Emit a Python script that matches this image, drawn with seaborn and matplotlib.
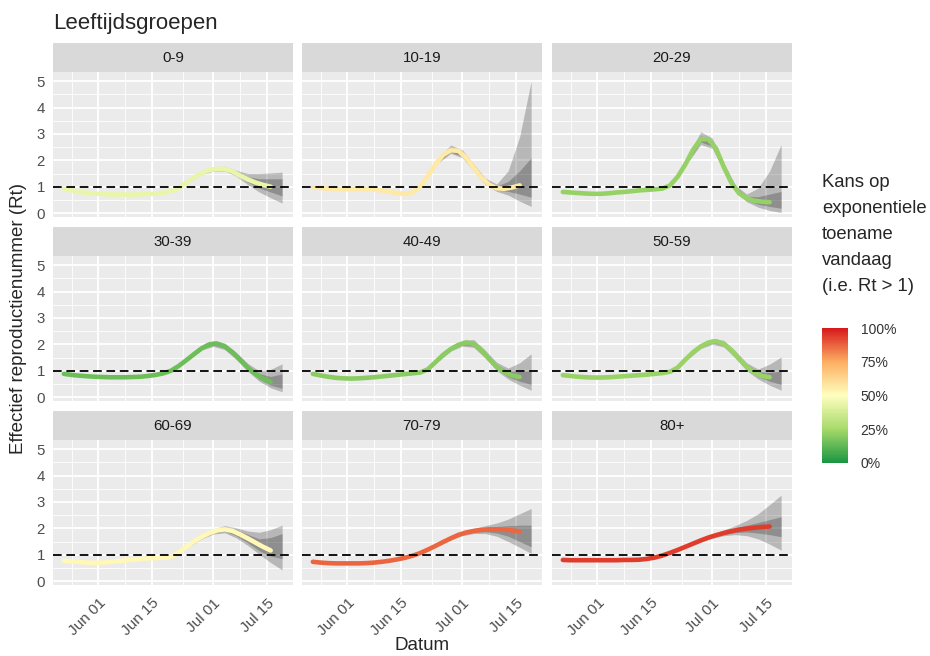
import numpy as np
import pandas as pd
import matplotlib
matplotlib.use("Agg")
import matplotlib.pyplot as plt
import matplotlib.dates as mdates
from matplotlib.colors import LinearSegmentedColormap, Normalize
from matplotlib.cm import ScalarMappable
from matplotlib.ticker import FixedLocator
import seaborn as sns

# Facet order (age groups)
groups = ['0-9', '10-19', '20-29', '30-39', '40-49', '50-59', '60-69', '70-79', '80+']

# Dates of the Rt estimates (every 2 days) and of the tail of the intervals
line_dates = pd.date_range('2020-05-23', '2020-07-16', freq='2D')
band_dates = pd.date_range('2020-06-25', '2020-07-19', freq='3D')

# Rt estimate per group
rt = {
    '0-9':   [0.92, 0.86, 0.81, 0.77, 0.74, 0.72, 0.71, 0.70, 0.70, 0.70, 0.71, 0.72, 0.74, 0.77,
              0.83, 0.95, 1.15, 1.35, 1.52, 1.63, 1.68, 1.68, 1.58, 1.42, 1.28, 1.16, 1.07, 1.00],
    '10-19': [0.97, 0.95, 0.93, 0.92, 0.91, 0.91, 0.92, 0.92, 0.90, 0.86, 0.81, 0.76, 0.72, 0.78,
              1.00, 1.40, 1.85, 2.20, 2.38, 2.36, 2.10, 1.72, 1.35, 1.08, 0.94, 0.92, 0.97, 1.05],
    '20-29': [0.80, 0.78, 0.76, 0.74, 0.73, 0.73, 0.75, 0.78, 0.80, 0.83, 0.86, 0.88, 0.90, 0.93,
              1.05, 1.38, 1.85, 2.40, 2.80, 2.80, 2.45, 1.75, 1.15, 0.75, 0.55, 0.47, 0.43, 0.41],
    '30-39': [0.88, 0.84, 0.81, 0.79, 0.77, 0.76, 0.75, 0.75, 0.75, 0.76, 0.77, 0.80, 0.84, 0.90,
              1.00, 1.18, 1.40, 1.63, 1.85, 2.00, 2.03, 1.92, 1.70, 1.42, 1.12, 0.88, 0.70, 0.57],
    '40-49': [0.88, 0.82, 0.77, 0.73, 0.71, 0.70, 0.71, 0.73, 0.75, 0.78, 0.81, 0.84, 0.87, 0.90,
              0.93, 1.05, 1.32, 1.60, 1.82, 1.98, 2.07, 2.02, 1.78, 1.45, 1.15, 0.95, 0.82, 0.76],
    '50-59': [0.83, 0.80, 0.77, 0.75, 0.74, 0.74, 0.75, 0.77, 0.79, 0.81, 0.83, 0.85, 0.88, 0.91,
              0.96, 1.12, 1.42, 1.70, 1.92, 2.07, 2.12, 2.02, 1.78, 1.45, 1.15, 0.93, 0.80, 0.75],
    '60-69': [0.77, 0.74, 0.72, 0.70, 0.69, 0.70, 0.72, 0.75, 0.78, 0.81, 0.84, 0.86, 0.87, 0.88,
              0.92, 1.08, 1.30, 1.50, 1.68, 1.82, 1.92, 1.96, 1.90, 1.77, 1.62, 1.46, 1.30, 1.16],
    '70-79': [0.73, 0.70, 0.68, 0.67, 0.67, 0.67, 0.67, 0.68, 0.70, 0.73, 0.77, 0.82, 0.88, 0.96,
              1.06, 1.19, 1.33, 1.48, 1.62, 1.75, 1.84, 1.90, 1.94, 1.96, 1.96, 1.95, 1.92, 1.88],
    '80+':   [0.80, 0.79, 0.79, 0.79, 0.79, 0.79, 0.79, 0.79, 0.80, 0.80, 0.81, 0.84, 0.89, 0.97,
              1.07, 1.18, 1.30, 1.42, 1.54, 1.65, 1.74, 1.82, 1.89, 1.95, 1.99, 2.02, 2.05, 2.07],
}

# Outer (95%) and inner (50%) intervals at band_dates
lo95 = {
    '0-9':   [1.20, 1.46, 1.59, 1.60, 1.40, 1.08, 0.80, 0.58, 0.38],
    '10-19': [1.93, 2.26, 2.10, 1.60, 1.08, 0.82, 0.68, 0.45, 0.25],
    '20-29': [1.98, 2.60, 2.45, 1.60, 0.84, 0.43, 0.22, 0.10, 0.02],
    '30-39': [1.45, 1.78, 1.92, 1.80, 1.42, 0.98, 0.60, 0.35, 0.20],
    '40-49': [1.38, 1.74, 1.93, 1.88, 1.48, 1.00, 0.68, 0.45, 0.26],
    '50-59': [1.48, 1.84, 2.00, 1.90, 1.48, 1.00, 0.68, 0.45, 0.26],
    '60-69': [1.33, 1.60, 1.78, 1.83, 1.64, 1.35, 1.02, 0.70, 0.42],
    '70-79': [1.35, 1.56, 1.72, 1.80, 1.80, 1.70, 1.50, 1.28, 1.05],
    '80+':   [1.31, 1.48, 1.62, 1.72, 1.76, 1.72, 1.60, 1.40, 1.17],
}
hi95 = {
    '0-9':   [1.30, 1.58, 1.74, 1.78, 1.62, 1.50, 1.50, 1.52, 1.55],
    '10-19': [2.13, 2.58, 2.40, 1.86, 1.33, 1.10, 1.60, 2.90, 5.00],
    '20-29': [2.28, 3.08, 2.85, 1.92, 1.07, 0.72, 0.95, 1.60, 2.60],
    '30-39': [1.60, 1.93, 2.14, 2.05, 1.70, 1.28, 1.00, 1.05, 1.26],
    '40-49': [1.55, 1.90, 2.15, 2.18, 1.78, 1.32, 1.10, 1.30, 1.64],
    '50-59': [1.64, 2.00, 2.22, 2.15, 1.76, 1.30, 1.06, 1.25, 1.52],
    '60-69': [1.47, 1.76, 1.98, 2.10, 2.02, 1.90, 1.85, 1.95, 2.12],
    '70-79': [1.45, 1.68, 1.88, 2.00, 2.10, 2.20, 2.35, 2.55, 2.75],
    '80+':   [1.41, 1.60, 1.78, 1.94, 2.10, 2.30, 2.55, 2.90, 3.26],
}
lo50 = {
    '0-9':   [1.23, 1.49, 1.63, 1.64, 1.45, 1.18, 0.95, 0.80, 0.65],
    '10-19': [1.98, 2.31, 2.16, 1.66, 1.14, 0.88, 0.82, 0.72, 0.60],
    '20-29': [2.05, 2.70, 2.53, 1.68, 0.90, 0.49, 0.33, 0.25, 0.18],
    '30-39': [1.48, 1.81, 1.97, 1.85, 1.48, 1.04, 0.68, 0.45, 0.33],
    '40-49': [1.42, 1.78, 1.98, 1.94, 1.54, 1.06, 0.77, 0.60, 0.48],
    '50-59': [1.52, 1.88, 2.05, 1.96, 1.55, 1.07, 0.77, 0.60, 0.48],
    '60-69': [1.37, 1.64, 1.83, 1.89, 1.72, 1.45, 1.15, 0.95, 0.85],
    '70-79': [1.38, 1.59, 1.76, 1.85, 1.87, 1.82, 1.70, 1.50, 1.30],
    '80+':   [1.34, 1.51, 1.66, 1.77, 1.84, 1.86, 1.82, 1.76, 1.68],
}
hi50 = {
    '0-9':   [1.27, 1.55, 1.70, 1.72, 1.56, 1.38, 1.30, 1.30, 1.30],
    '10-19': [2.08, 2.47, 2.32, 1.79, 1.27, 1.02, 1.20, 1.60, 2.10],
    '20-29': [2.20, 2.93, 2.72, 1.84, 1.01, 0.63, 0.62, 0.72, 0.82],
    '30-39': [1.56, 1.89, 2.08, 1.99, 1.63, 1.20, 0.89, 0.78, 0.88],
    '40-49': [1.50, 1.86, 2.09, 2.10, 1.70, 1.24, 0.99, 0.98, 1.00],
    '50-59': [1.60, 1.96, 2.16, 2.09, 1.69, 1.23, 0.96, 0.93, 0.98],
    '60-69': [1.43, 1.72, 1.93, 2.03, 1.94, 1.77, 1.60, 1.65, 1.80],
    '70-79': [1.42, 1.65, 1.84, 1.95, 2.03, 2.07, 2.10, 2.12, 2.12],
    '80+':   [1.38, 1.57, 1.74, 1.87, 2.00, 2.12, 2.22, 2.33, 2.44],
}

# Probability that Rt > 1 today (line colour)
p_growth = {'0-9': 0.44, '10-19': 0.57, '20-29': 0.22, '30-39': 0.15, '40-49': 0.20,
            '50-59': 0.23, '60-69': 0.52, '70-79': 0.87, '80+': 0.94}

# Long table for seaborn
df = pd.concat([pd.DataFrame({'groep': g, 'datum': line_dates, 'rt': rt[g]}) for g in groups],
               ignore_index=True)

# Theme (ggplot-like grey)
sns.set_theme(style='darkgrid', rc={'axes.facecolor': '#ebebeb', 'grid.color': 'white'})
plt.rcParams['font.family'] = ['Liberation Sans', 'DejaVu Sans']

cmap = LinearSegmentedColormap.from_list(
    'kans', ['#1a9641', '#a6d96a', '#ffffbf', '#fdae61', '#d7191c'])
norm = Normalize(0, 1)

W, H = 930, 656
fig = plt.figure(figsize=(W / 100, H / 100), dpi=100)


def box(left, top, width, height):
    return [left / W, 1 - (top + height) / H, width / W, height / H]


col_left = [53, 302, 552]
row_top = [43, 227, 411]
panel_w, strip_h, panel_h = 240, 29, 145

x_major = pd.to_datetime(['2020-06-01', '2020-06-15', '2020-07-01', '2020-07-15'])
x_minor = pd.to_datetime(['2020-05-25', '2020-06-08', '2020-06-23', '2020-07-08'])

for i, g in enumerate(groups):
    r, c = divmod(i, 3)

    # strip
    sax = fig.add_axes(box(col_left[c], row_top[r], panel_w, strip_h))
    sax.set_facecolor('#d9d9d9')
    sax.grid(False)
    sax.set_xticks([])
    sax.set_yticks([])
    for s in sax.spines.values():
        s.set_visible(False)
    sax.text(0.5, 0.5, g, ha='center', va='center', fontsize=10.8, color='#1a1a1a',
             transform=sax.transAxes)

    # panel
    ax = fig.add_axes(box(col_left[c], row_top[r] + strip_h, panel_w, panel_h))
    for s in ax.spines.values():
        s.set_visible(False)

    ax.fill_between(band_dates, lo95[g], hi95[g], color='black', alpha=0.22, lw=0, zorder=2)
    ax.fill_between(band_dates, lo50[g], hi50[g], color='black', alpha=0.22, lw=0, zorder=2)
    sns.lineplot(data=df[df['groep'] == g], x='datum', y='rt', ax=ax,
                 color=cmap(norm(p_growth[g])), linewidth=3.3, zorder=3)
    ax.axhline(1, color='black', lw=1.3, ls=(0, (4.8, 2.6)), zorder=4)

    ax.set_xlim(pd.Timestamp('2020-05-20 04:00'), pd.Timestamp('2020-07-21 20:00'))
    ax.set_ylim(-0.15, 5.35)
    ax.xaxis.set_major_locator(FixedLocator(mdates.date2num(x_major)))
    ax.xaxis.set_minor_locator(FixedLocator(mdates.date2num(x_minor)))
    ax.xaxis.set_major_formatter(mdates.DateFormatter('%b %d'))
    ax.yaxis.set_major_locator(FixedLocator([0, 1, 2, 3, 4, 5]))
    ax.yaxis.set_minor_locator(FixedLocator([0.5, 1.5, 2.5, 3.5, 4.5]))
    ax.grid(which='major', color='white', lw=1.3)
    ax.grid(which='minor', color='white', lw=0.6)
    ax.set_axisbelow(True)
    ax.set_xlabel('')
    ax.set_ylabel('')

    ax.tick_params(which='minor', length=0)
    ax.tick_params(which='major', length=3.8, width=0.9, color='#333333',
                   labelcolor='#4d4d4d', labelsize=10.8, pad=2)
    if c != 0:
        ax.tick_params(axis='y', length=0, labelleft=False)
    if r != 2:
        ax.tick_params(axis='x', length=0, labelbottom=False)
    else:
        ax.tick_params(axis='x', labelsize=11, pad=4)
        for lab in ax.get_xticklabels():
            lab.set_rotation(45)
            lab.set_ha('right')
            lab.set_va('top')
            lab.set_rotation_mode('anchor')

# titles
fig.text(53 / W, 1 - 23 / H, 'Leeftijdsgroepen', fontsize=16, va='center', ha='left')
fig.text(19 / W, 1 - 318 / H, 'Effectief reproductienummer (Rt)', fontsize=13.5,
         rotation=90, va='center', ha='center')
fig.text(422 / W, 1 - 645 / H, 'Datum', fontsize=13.5, va='center', ha='center')

# colour legend
fig.text(822 / W, 1 - 174 / H, 'Kans op\nexponentiele\ntoename\nvandaag\n(i.e. Rt > 1)',
         fontsize=13.3, va='top', ha='left', linespacing=1.7)
cax = fig.add_axes(box(822, 328, 26, 135))
cb = fig.colorbar(ScalarMappable(norm=norm, cmap=cmap), cax=cax)
cb.outline.set_visible(False)
cb.set_ticks([0, 0.25, 0.5, 0.75, 1])
cb.set_ticklabels(['0%', '25%', '50%', '75%', '100%'])
cax.tick_params(length=0, labelsize=10, labelcolor='#333333', pad=9)
cax.grid(False)

fig.savefig('out.png', dpi=100, facecolor='white')
